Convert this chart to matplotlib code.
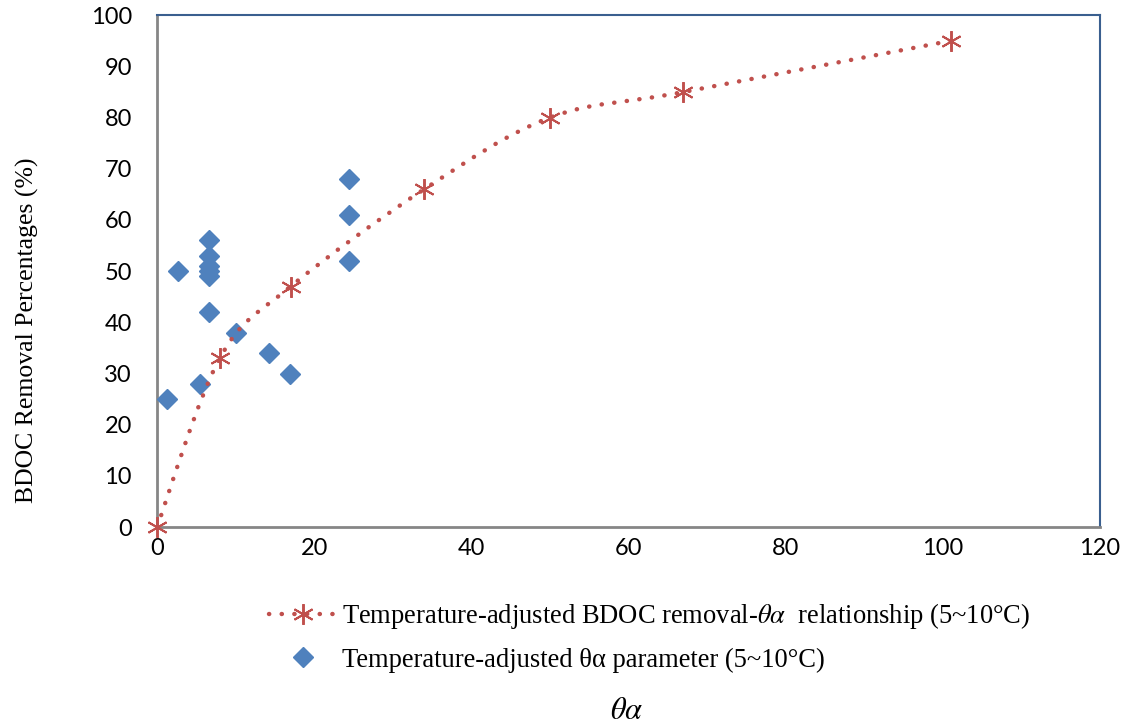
import matplotlib
matplotlib.use("Agg")
import matplotlib.pyplot as plt
import numpy as np
from matplotlib.path import Path
from matplotlib.patches import PathPatch
from matplotlib.lines import Line2D

# relationship curve (red stars, smoothed dotted line)
rel_x = [0, 8, 17, 34, 50, 67, 101]
rel_y = [0, 33, 47, 66, 80, 85, 95]

# measured theta-alpha parameter (blue diamonds)
par_x = [1.3, 2.7, 5.5, 6.6, 6.6, 6.6, 6.6, 6.6, 6.6, 10, 14.3, 16.9, 24.4, 24.4, 24.4]
par_y = [25, 50, 28, 56, 53, 51, 50, 49, 42, 38, 34, 30, 68, 61, 52]

x_ticks = [0, 20, 40, 60, 80, 100, 120]
y_ticks = [0, 10, 20, 30, 40, 50, 60, 70, 80, 90, 100]

red = "#C0504D"
blue = "#4F81BD"
dots = (0, (0.05, 2.8))

plt.rcParams["mathtext.fontset"] = "stix"

fig = plt.figure(figsize=(11.26, 7.25), dpi=100)
ax = fig.add_axes([0.1394, 0.273, 0.8375, 0.706])


def smooth_path(xs, ys):
    # Excel-style smoothed line: cubic bezier with catmull-rom control points
    pts = np.column_stack([xs, ys]).astype(float)
    ext = np.vstack([pts[0], pts, pts[-1]])
    verts = [pts[0]]
    codes = [Path.MOVETO]
    for i in range(len(pts) - 1):
        p0, p1, p2, p3 = ext[i], ext[i + 1], ext[i + 2], ext[i + 3]
        verts += [p1 + (p2 - p0) / 6, p2 - (p3 - p1) / 6, p2]
        codes += [Path.CURVE4] * 3
    return Path(verts, codes)


ax.plot(par_x, par_y, ls="none", marker="D", ms=10.5, color=blue, zorder=3)

curve = PathPatch(smooth_path(rel_x, rel_y), fill=False, edgecolor=red,
                  lw=3.2, linestyle=dots, capstyle="round", zorder=4)
ax.add_patch(curve)
ax.plot(rel_x, rel_y, ls="none", marker=(6, 2, 0), ms=15, mew=1.4,
        color=red, zorder=5, clip_on=False)

ax.set_xlim(0, 120)
ax.set_ylim(0, 100)
ax.set_xticks(x_ticks)
ax.set_yticks(y_ticks)
ax.tick_params(length=0, labelsize=17)
ax.tick_params(axis="y", pad=18)
ax.tick_params(axis="x", pad=8)
for lab in ax.get_xticklabels() + ax.get_yticklabels():
    lab.set_fontfamily("Lato")

for side in ["top", "right"]:
    ax.spines[side].set_color("#3A5F8F")
    ax.spines[side].set_linewidth(1.5)
for side in ["left", "bottom"]:
    ax.spines[side].set_color("#868686")
    ax.spines[side].set_linewidth(2)

fig.text(0.024, 0.545, "BDOC Removal Percentages (%)", rotation=90,
         ha="center", va="center", family="Liberation Serif", fontsize=18.5)
fig.text(0.557, 0.02, r"$\theta\alpha$", ha="center", va="center", fontsize=22)

h1 = Line2D([], [], color=red, lw=3.2, linestyle=dots,
            dash_capstyle="round", marker=(6, 2, 0), ms=15, mew=1.4)
h2 = Line2D([], [], ls="none", color=blue, marker="D", ms=10.5)
leg = fig.legend([h1, h2],
                 [r"Temperature-adjusted BDOC removal-$\theta\alpha$  relationship (5~10°C)",
                  "Temperature-adjusted θα parameter (5~10°C)"],
                 loc="upper left", bbox_to_anchor=(0.218, 0.204),
                 frameon=False, handlelength=2.5, handletextpad=0.25,
                 labelspacing=0.62, prop={"family": "Liberation Serif", "size": 19.1})

fig.savefig("out.png", dpi=100)
